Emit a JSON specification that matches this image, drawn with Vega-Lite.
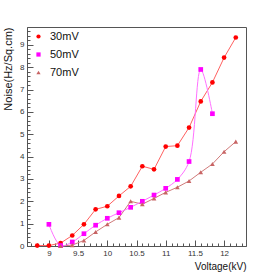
{
  "$schema": "https://vega.github.io/schema/vega-lite/v6.json",
  "autosize": "none",
  "padding": {"left": 27, "top": 27, "right": 27, "bottom": 27},
  "width": 219,
  "height": 219,
  "background": "white",
  "config": {
    "view": {"stroke": "#555", "strokeWidth": 1},
    "font": "Liberation Sans",
    "axis": {"grid": false, "domainColor": "#555", "tickColor": "#555", "labelColor": "#333", "labelFontSize": 8, "titleFontWeight": "normal", "titleColor": "#111", "titleFontSize": 11}
  },
  "datasets": {
    "pts": [
      {"v": 8.8, "n": 0.02, "s": "30mV"}, {"v": 9.0, "n": 0.02, "s": "30mV"}, {"v": 9.2, "n": 0.13, "s": "30mV"}, {"v": 9.4, "n": 0.47, "s": "30mV"}, {"v": 9.6, "n": 0.97, "s": "30mV"}, {"v": 9.8, "n": 1.64, "s": "30mV"}, {"v": 10.0, "n": 1.78, "s": "30mV"}, {"v": 10.2, "n": 2.24, "s": "30mV"}, {"v": 10.4, "n": 2.67, "s": "30mV"}, {"v": 10.6, "n": 3.57, "s": "30mV"}, {"v": 10.8, "n": 3.43, "s": "30mV"}, {"v": 11.0, "n": 4.45, "s": "30mV"}, {"v": 11.2, "n": 4.49, "s": "30mV"}, {"v": 11.4, "n": 5.3, "s": "30mV"}, {"v": 11.6, "n": 6.47, "s": "30mV"}, {"v": 11.8, "n": 7.32, "s": "30mV"}, {"v": 12.0, "n": 8.43, "s": "30mV"}, {"v": 12.2, "n": 9.33, "s": "30mV"},
      {"v": 9.0, "n": 0.97, "s": "50mV"}, {"v": 9.2, "n": 0.02, "s": "50mV"}, {"v": 9.4, "n": 0.18, "s": "50mV"}, {"v": 9.6, "n": 0.55, "s": "50mV"}, {"v": 9.8, "n": 0.93, "s": "50mV"}, {"v": 10.0, "n": 1.24, "s": "50mV"}, {"v": 10.2, "n": 1.49, "s": "50mV"}, {"v": 10.4, "n": 1.73, "s": "50mV"}, {"v": 10.6, "n": 2.0, "s": "50mV"}, {"v": 10.8, "n": 2.28, "s": "50mV"}, {"v": 11.0, "n": 2.58, "s": "50mV"}, {"v": 11.2, "n": 2.98, "s": "50mV"}, {"v": 11.4, "n": 3.78, "s": "50mV"}, {"v": 11.6, "n": 7.9, "s": "50mV"}, {"v": 11.8, "n": 5.92, "s": "50mV"},
      {"v": 9.2, "n": 0.0, "s": "70mV"}, {"v": 9.4, "n": 0.04, "s": "70mV"}, {"v": 9.6, "n": 0.25, "s": "70mV"}, {"v": 9.8, "n": 0.63, "s": "70mV"}, {"v": 10.0, "n": 0.97, "s": "70mV"}, {"v": 10.2, "n": 1.27, "s": "70mV"}, {"v": 10.4, "n": 2.0, "s": "70mV"}, {"v": 10.6, "n": 1.87, "s": "70mV"}, {"v": 10.8, "n": 2.13, "s": "70mV"}, {"v": 11.0, "n": 2.4, "s": "70mV"}, {"v": 11.2, "n": 2.63, "s": "70mV"}, {"v": 11.4, "n": 2.91, "s": "70mV"}, {"v": 11.6, "n": 3.3, "s": "70mV"}, {"v": 11.8, "n": 3.67, "s": "70mV"}, {"v": 12.0, "n": 4.22, "s": "70mV"}, {"v": 12.2, "n": 4.67, "s": "70mV"}
    ]
  },
  "data": {"name": "pts"},
  "layer": [
    {
      "transform": [{"filter": "datum.s === '30mV'"}],
      "mark": {"type": "line", "color": "#ff6060", "strokeWidth": 1},
      "encoding": {
        "x": {"field": "v", "type": "quantitative", "scale": {"domain": [8.625, 12.375], "nice": false, "zero": false}, "axis": {"orient": "bottom", "values": [9, 9.5, 10, 10.5, 11, 11.5, 12], "format": "~g", "tickSize": -6, "labelPadding": 9, "title": "Voltage(kV)", "titleAnchor": "end", "titlePadding": 4, "titleFontSize": 10}},
        "y": {"field": "n", "type": "quantitative", "scale": {"domain": [0, 9.8], "nice": false}, "axis": {"orient": "left", "values": [0, 1, 2, 3, 4, 5, 6, 7, 8, 9], "format": "~g", "tickSize": -6, "labelPadding": 9, "title": "Noise(Hz/Sq.cm)", "titleAnchor": "end", "titlePadding": 6}}
      }
    },
    {
      "transform": [{"filter": "datum.s === '70mV'"}],
      "mark": {"type": "line", "color": "#d07a7a", "strokeWidth": 1},
      "encoding": {
        "x": {"field": "v", "type": "quantitative", "axis": {"orient": "bottom", "values": [8.7, 8.8, 8.9, 9.1, 9.2, 9.3, 9.4, 9.6, 9.7, 9.8, 9.9, 10.1, 10.2, 10.3, 10.4, 10.6, 10.7, 10.8, 10.9, 11.1, 11.2, 11.3, 11.4, 11.6, 11.7, 11.8, 11.9, 12.1, 12.2, 12.3], "tickSize": -3, "labels": false, "domain": false, "title": null}},
        "y": {"field": "n", "type": "quantitative", "axis": {"orient": "left", "values": [0.2, 0.4, 0.6, 0.8, 1.2, 1.4, 1.6, 1.8, 2.2, 2.4, 2.6, 2.8, 3.2, 3.4, 3.6, 3.8, 4.2, 4.4, 4.6, 4.8, 5.2, 5.4, 5.6, 5.8, 6.2, 6.4, 6.6, 6.8, 7.2, 7.4, 7.6, 7.8, 8.2, 8.4, 8.6, 8.8, 9.2, 9.4, 9.6], "tickSize": -3, "labels": false, "domain": false, "title": null}}
      }
    },
    {
      "transform": [{"filter": "datum.s === '50mV'"}],
      "mark": {"type": "line", "color": "#ff70ff", "strokeWidth": 1, "interpolate": "catmull-rom"},
      "encoding": {
        "x": {"field": "v", "type": "quantitative", "axis": null},
        "y": {"field": "n", "type": "quantitative", "axis": null}
      }
    },
    {
      "mark": {"type": "point", "filled": true, "opacity": 1},
      "encoding": {
        "x": {"field": "v", "type": "quantitative", "axis": null},
        "y": {"field": "n", "type": "quantitative", "axis": null},
        "color": {"field": "s", "type": "nominal", "scale": {"domain": ["30mV", "50mV", "70mV"], "range": ["#ff0000", "#ff00ff", "#c86464"]}, "legend": {"orient": "none", "legendX": 6, "legendY": 4, "title": null, "labelFontSize": 11, "labelColor": "#111", "symbolSize": 18, "rowPadding": 6, "labelOffset": 6}},
        "shape": {"field": "s", "type": "nominal", "scale": {"domain": ["30mV", "50mV", "70mV"], "range": ["circle", "square", "triangle-up"]}},
        "size": {"value": 22}
      }
    }
  ],
  "resolve": {"axis": {"x": "independent", "y": "independent"}}
}
